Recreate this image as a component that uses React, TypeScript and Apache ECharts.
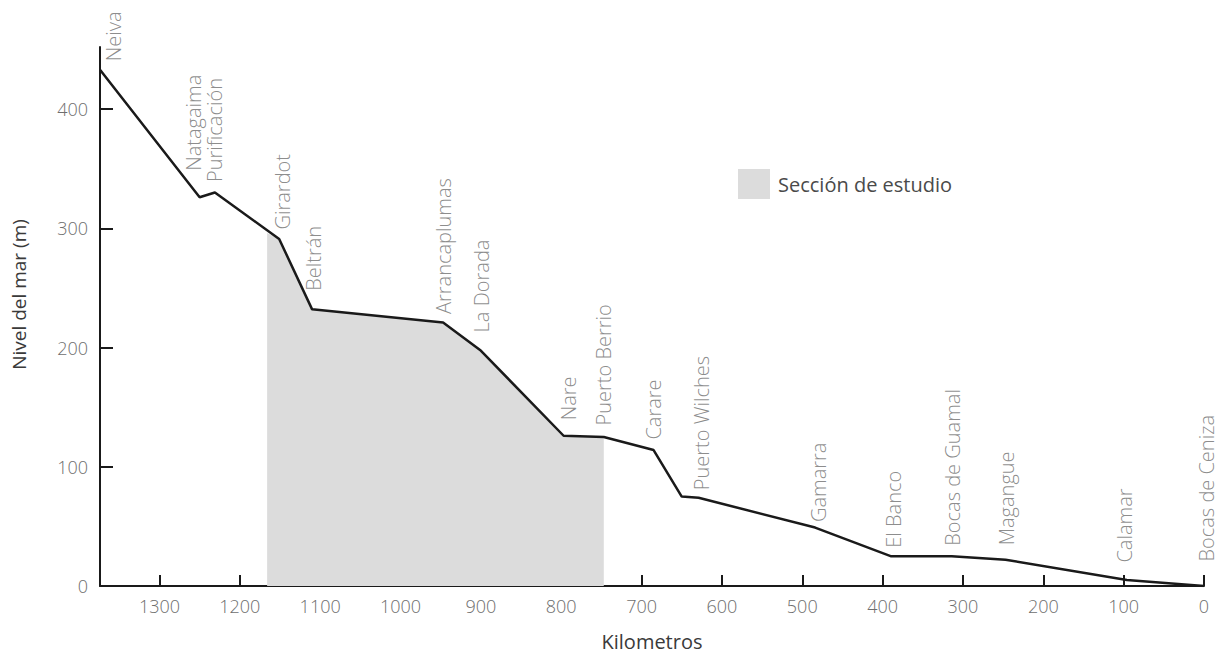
import React, { useEffect, useRef } from 'react';
import * as echarts from 'echarts';

// ---- data ----
const stationNames = ['Neiva', 'Natagaima', 'Purificación', 'Girardot', 'Beltrán', 'Arrancaplumas', 'La Dorada', 'Nare', 'Puerto Berrio', 'Carare', '', 'Puerto Wilches', 'Gamarra', 'El Banco', 'Bocas de Guamal', 'Magangue', 'Calamar', 'Bocas de Ceniza'];
const stationKm = [1374, 1250, 1231, 1151, 1110, 947, 901, 797, 747, 685, 650, 629, 484, 390, 314, 247, 96, 0];
const stationElev = [433, 326, 330, 291, 232, 221, 198, 126, 125, 114, 75, 74, 49, 25, 25, 22, 5, 0];

// study section: starts on the profile between Purificación and Girardot, ends at Puerto Berrio
const studyStart = [1166, 296];
const studyEndKm = 747;
const studyName = 'Sección de estudio';

const xTicks = [0, 100, 200, 300, 400, 500, 600, 700, 800, 900, 1000, 1100, 1200, 1300];
const yTicks = [0, 100, 200, 300, 400];
const xMax = 1374;
const yMax = 452;

// ---- label nudges on screen, [right, down] in px (layout only) ----
const labelNudge: Record<string, number[]> = {
  'Neiva': [13, 0], 'Natagaima': [-6, -18], 'Purificación': [0, -2], 'Girardot': [3, -1],
  'Beltrán': [1, -10], 'Arrancaplumas': [0, 0], 'La Dorada': [1, -9], 'Nare': [5, -7],
  'Puerto Berrio': [0, -3], 'Carare': [0, -2], 'Puerto Wilches': [3, 1], 'Gamarra': [3, 3],
  'El Banco': [3, 0], 'Bocas de Guamal': [1, -2], 'Magangue': [1, -6], 'Calamar': [-2, -9],
  'Bocas de Ceniza': [2, -16],
};

const FONT = '"Open Sans", "Noto Sans", sans-serif';

export default function App() {
  const ref = useRef<HTMLDivElement>(null);
  useEffect(() => {
    const chart = echarts.init(ref.current!, null, { renderer: 'svg' });

    const profile = stationKm.map((k, i) => [k, stationElev[i]]);
    const studyData: number[][] = [studyStart];
    stationKm.forEach((k, i) => {
      if (k < studyStart[0] && k >= studyEndKm) studyData.push([k, stationElev[i]]);
    });
    const labelData = stationKm
      .map((k, i) => ({ name: stationNames[i], value: [k, stationElev[i]] }))
      .filter((d) => d.name !== '')
      .map((d) => {
        const n = labelNudge[d.name] || [0, 0];
        // label is rotated 90°, so its offset is in the rotated frame
        return { ...d, label: { offset: [-n[1], n[0]] } };
      });

    const axisLine = { show: true, onZero: false, lineStyle: { color: '#1a1a1a', width: 2 } };
    const tickStyle = { color: '#1a1a1a', width: 2 };

    chart.setOption({
      animation: false,
      backgroundColor: '#ffffff',
      grid: { left: 100, right: 15, top: 47, bottom: 66, containLabel: false },
      legend: {
        left: 738,
        top: 169,
        padding: 0,
        itemWidth: 32,
        itemHeight: 30,
        data: [{ name: studyName, icon: 'rect' }],
        textStyle: { fontFamily: FONT, fontSize: 20, color: '#4a4a4a', padding: [0, 0, 0, 3] },
        selectedMode: false,
      },
      xAxis: {
        type: 'value',
        inverse: true,
        min: 0,
        max: xMax,
        interval: 100,
        name: 'Kilometros',
        nameLocation: 'middle',
        nameGap: 45,
        nameTextStyle: { fontFamily: FONT, fontSize: 20, color: '#3a3a3a' },
        axisLine,
        axisTick: { show: true, inside: true, length: 11, lineStyle: tickStyle, customValues: xTicks },
        axisLabel: {
          fontFamily: FONT, fontSize: 18, fontWeight: 300, color: '#6e6e6e', margin: 11,
          customValues: xTicks,
          formatter: (v: number) => String(v),
        },
        splitLine: { show: false },
      },
      yAxis: {
        type: 'value',
        min: 0,
        max: yMax,
        interval: 100,
        name: 'Nivel del mar (m)',
        nameLocation: 'middle',
        nameGap: 72,
        nameTextStyle: { fontFamily: FONT, fontSize: 19, color: '#3a3a3a', padding: [0, 0, 0, 44] },
        axisLine,
        axisTick: { show: true, inside: true, length: 13, lineStyle: tickStyle, customValues: yTicks },
        axisLabel: {
          fontFamily: FONT, fontSize: 18, fontWeight: 300, color: '#6e6e6e', margin: 12,
          customValues: yTicks,
          formatter: (v: number) => String(v),
        },
        splitLine: { show: false },
      },
      series: [
        {
          name: studyName,
          type: 'line',
          data: studyData,
          symbol: 'none',
          itemStyle: { color: '#dcdcdc' },
          lineStyle: { width: 0, color: '#dcdcdc' },
          areaStyle: { color: '#dcdcdc', opacity: 1 },
          z: 1,
          silent: true,
        },
        {
          name: 'Perfil',
          type: 'line',
          data: profile,
          symbol: 'none',
          lineStyle: { color: '#1a1a1a', width: 2.5 },
          itemStyle: { color: '#1a1a1a' },
          z: 3,
          silent: true,
        },
        {
          name: 'Estaciones',
          type: 'scatter',
          data: labelData,
          symbolSize: 1,
          itemStyle: { color: 'rgba(0,0,0,0)' },
          label: {
            show: true,
            position: 'top',
            distance: 8,
            rotate: 90,
            align: 'left',
            verticalAlign: 'middle',
            formatter: '{b}',
            fontFamily: FONT,
            fontSize: 20,
            fontWeight: 300,
            color: '#6e6e6e',
          },
          z: 4,
          silent: true,
        },
      ],
    });
    return () => chart.dispose();
  }, []);
  return (
    <div
      ref={ref}
      style={{ position: 'fixed', left: 0, top: 0, width: 1219, height: 656, background: '#fff' }}
    />
  );
}
